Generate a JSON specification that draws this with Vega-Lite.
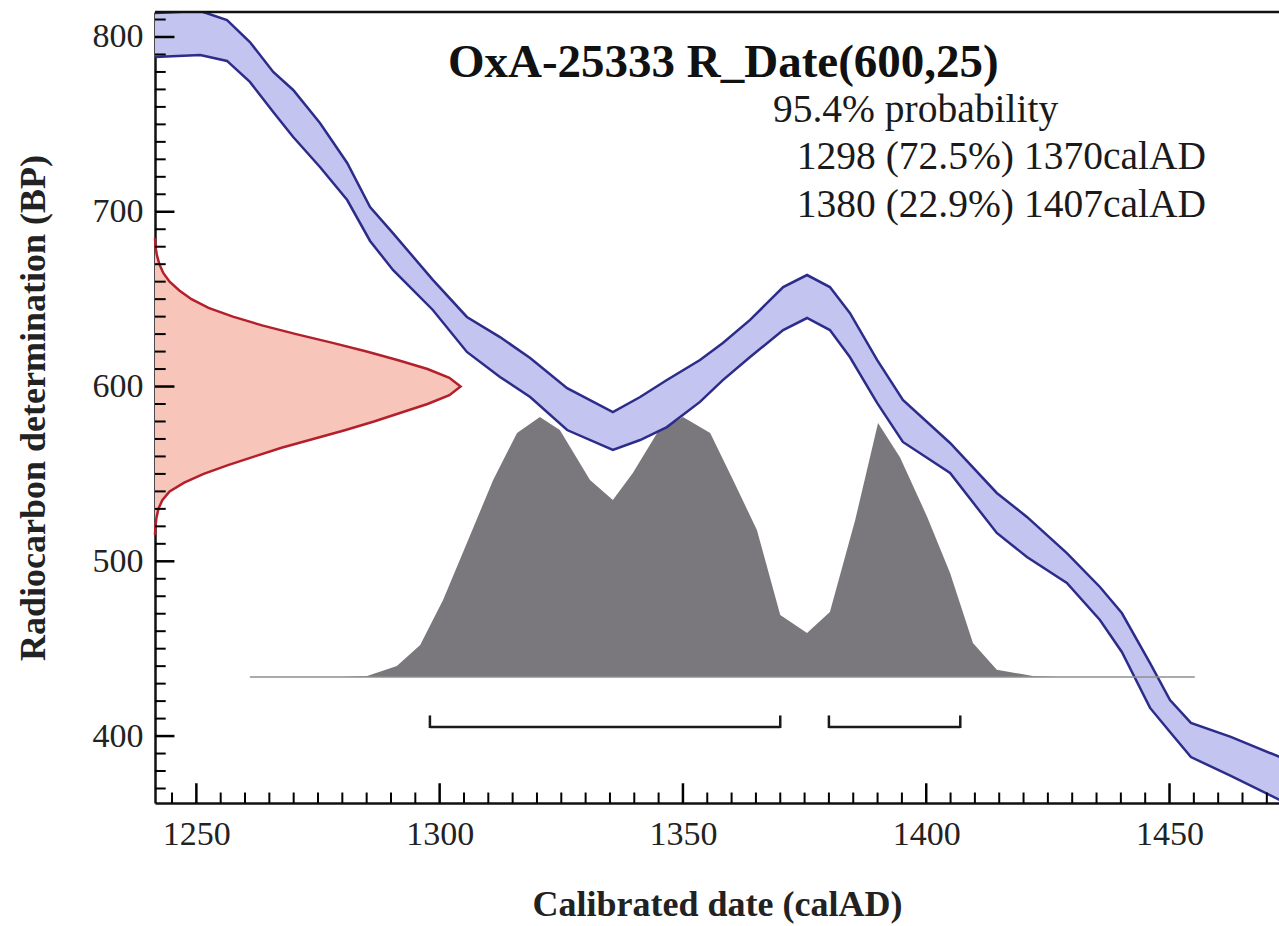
{
  "$schema": "https://vega.github.io/schema/vega-lite/v6.json",
  "width": 1124,
  "height": 791,
  "autosize": {"type": "none"},
  "padding": {"left": 155, "top": 12, "right": 0, "bottom": 123},
  "background": "white",
  "config": {"view": {"stroke": null}, "font": "Liberation Serif"},
  "datasets": {
    "band": [
      {"yr": 1241.5, "hi": 813.7, "lo": 788.6},
      {"yr": 1250.8, "hi": 814.9, "lo": 789.7},
      {"yr": 1256.3, "hi": 809.7, "lo": 786.3},
      {"yr": 1261.0, "hi": 797.1, "lo": 774.3},
      {"yr": 1265.8, "hi": 780.0, "lo": 757.1},
      {"yr": 1269.9, "hi": 769.7, "lo": 742.8},
      {"yr": 1275.4, "hi": 750.8, "lo": 725.6},
      {"yr": 1281.0, "hi": 727.9, "lo": 706.7},
      {"yr": 1285.7, "hi": 702.7, "lo": 683.3},
      {"yr": 1290.4, "hi": 687.8, "lo": 666.7},
      {"yr": 1298.6, "hi": 661.0, "lo": 643.8},
      {"yr": 1305.6, "hi": 639.8, "lo": 619.8},
      {"yr": 1312.4, "hi": 628.3, "lo": 605.5},
      {"yr": 1318.6, "hi": 616.3, "lo": 594.0},
      {"yr": 1326.2, "hi": 599.1, "lo": 575.1},
      {"yr": 1335.6, "hi": 585.4, "lo": 563.7},
      {"yr": 1341.2, "hi": 594.0, "lo": 569.4},
      {"yr": 1346.7, "hi": 603.7, "lo": 576.8},
      {"yr": 1353.5, "hi": 615.2, "lo": 591.2},
      {"yr": 1358.2, "hi": 624.9, "lo": 603.7},
      {"yr": 1363.8, "hi": 638.1, "lo": 616.9},
      {"yr": 1370.6, "hi": 656.9, "lo": 632.3},
      {"yr": 1375.5, "hi": 663.8, "lo": 639.2},
      {"yr": 1380.2, "hi": 656.9, "lo": 632.3},
      {"yr": 1384.3, "hi": 642.1, "lo": 616.9},
      {"yr": 1389.9, "hi": 615.2, "lo": 590.6},
      {"yr": 1395.2, "hi": 592.3, "lo": 568.3},
      {"yr": 1404.9, "hi": 567.7, "lo": 550.5},
      {"yr": 1414.5, "hi": 539.1, "lo": 516.2},
      {"yr": 1420.7, "hi": 525.4, "lo": 502.5},
      {"yr": 1428.9, "hi": 504.7, "lo": 487.6},
      {"yr": 1435.7, "hi": 485.3, "lo": 466.4},
      {"yr": 1440.2, "hi": 470.4, "lo": 448.1},
      {"yr": 1446.0, "hi": 441.8, "lo": 416.1},
      {"yr": 1450.1, "hi": 420.6, "lo": 402.3},
      {"yr": 1454.4, "hi": 407.5, "lo": 388.0},
      {"yr": 1462.6, "hi": 399.5, "lo": 377.2},
      {"yr": 1472.7, "hi": 388.0, "lo": 363.4}
    ],
    "rdate": [
      {"bp": 685, "yr": 1241.5},
      {"bp": 680, "yr": 1241.6},
      {"bp": 675, "yr": 1241.9},
      {"bp": 670, "yr": 1242.4},
      {"bp": 665, "yr": 1243.2},
      {"bp": 660, "yr": 1244.5},
      {"bp": 655, "yr": 1246.5},
      {"bp": 650, "yr": 1249.0},
      {"bp": 645, "yr": 1252.5},
      {"bp": 640, "yr": 1257.5},
      {"bp": 635, "yr": 1263.5},
      {"bp": 630, "yr": 1270.5},
      {"bp": 625, "yr": 1278.0},
      {"bp": 620, "yr": 1285.0},
      {"bp": 615, "yr": 1291.5},
      {"bp": 610, "yr": 1297.5},
      {"bp": 605, "yr": 1302.0},
      {"bp": 600, "yr": 1304.3},
      {"bp": 595, "yr": 1302.0},
      {"bp": 590, "yr": 1297.5},
      {"bp": 585, "yr": 1292.0},
      {"bp": 580, "yr": 1286.5},
      {"bp": 575, "yr": 1280.5},
      {"bp": 570, "yr": 1274.0},
      {"bp": 565, "yr": 1267.5},
      {"bp": 560, "yr": 1262.0},
      {"bp": 555, "yr": 1256.5},
      {"bp": 550, "yr": 1251.5},
      {"bp": 545, "yr": 1247.5},
      {"bp": 540, "yr": 1244.5},
      {"bp": 535, "yr": 1243.0},
      {"bp": 530, "yr": 1242.2},
      {"bp": 525, "yr": 1241.8},
      {"bp": 520, "yr": 1241.6},
      {"bp": 515, "yr": 1241.5}
    ],
    "posterior": [
      {"yr": 1279.5, "p": 433.8},
      {"yr": 1285.1, "p": 434.4},
      {"yr": 1291.2, "p": 440.1},
      {"yr": 1296.0, "p": 452.1},
      {"yr": 1300.7, "p": 477.9},
      {"yr": 1305.6, "p": 510.5},
      {"yr": 1311.0, "p": 546.5},
      {"yr": 1315.9, "p": 573.4},
      {"yr": 1320.6, "p": 582.6},
      {"yr": 1324.7, "p": 575.1},
      {"yr": 1330.9, "p": 546.5},
      {"yr": 1335.6, "p": 535.1},
      {"yr": 1339.7, "p": 550.5},
      {"yr": 1344.7, "p": 573.4},
      {"yr": 1350.0, "p": 582.6},
      {"yr": 1355.6, "p": 573.4},
      {"yr": 1360.3, "p": 546.5},
      {"yr": 1365.2, "p": 517.9},
      {"yr": 1370.0, "p": 469.3},
      {"yr": 1375.5, "p": 459.0},
      {"yr": 1380.2, "p": 471.0},
      {"yr": 1385.4, "p": 523.6},
      {"yr": 1390.1, "p": 579.1},
      {"yr": 1394.6, "p": 559.6},
      {"yr": 1400.2, "p": 525.4},
      {"yr": 1404.9, "p": 493.3},
      {"yr": 1409.6, "p": 453.3},
      {"yr": 1414.5, "p": 437.9},
      {"yr": 1421.9, "p": 434.4},
      {"yr": 1427.5, "p": 433.8}
    ],
    "baseline": [{"from": 1261.0, "to": 1455.2, "bp": 433.8}],
    "ranges": [{"from": 1298, "to": 1370}, {"from": 1380, "to": 1407}],
    "ends": [{"yr": 1298}, {"yr": 1370}, {"yr": 1380}, {"yr": 1407}],
    "xmajor": [{"v": 1250}, {"v": 1300}, {"v": 1350}, {"v": 1400}, {"v": 1450}],
    "xminor": [{"v": 1245}, {"v": 1255}, {"v": 1260}, {"v": 1265}, {"v": 1270}, {"v": 1275}, {"v": 1280}, {"v": 1285}, {"v": 1290}, {"v": 1295}, {"v": 1305}, {"v": 1310}, {"v": 1315}, {"v": 1320}, {"v": 1325}, {"v": 1330}, {"v": 1335}, {"v": 1340}, {"v": 1345}, {"v": 1355}, {"v": 1360}, {"v": 1365}, {"v": 1370}, {"v": 1375}, {"v": 1380}, {"v": 1385}, {"v": 1390}, {"v": 1395}, {"v": 1405}, {"v": 1410}, {"v": 1415}, {"v": 1420}, {"v": 1425}, {"v": 1430}, {"v": 1435}, {"v": 1440}, {"v": 1445}, {"v": 1455}, {"v": 1460}, {"v": 1465}, {"v": 1470}],
    "ymajor": [{"v": 400}, {"v": 500}, {"v": 600}, {"v": 700}, {"v": 800}],
    "yminor": [{"v": 370}, {"v": 380}, {"v": 390}, {"v": 410}, {"v": 420}, {"v": 430}, {"v": 440}, {"v": 450}, {"v": 460}, {"v": 470}, {"v": 480}, {"v": 490}, {"v": 510}, {"v": 520}, {"v": 530}, {"v": 540}, {"v": 550}, {"v": 560}, {"v": 570}, {"v": 580}, {"v": 590}, {"v": 610}, {"v": 620}, {"v": 630}, {"v": 640}, {"v": 650}, {"v": 660}, {"v": 670}, {"v": 680}, {"v": 690}, {"v": 710}, {"v": 720}, {"v": 730}, {"v": 740}, {"v": 750}, {"v": 760}, {"v": 770}, {"v": 780}, {"v": 790}, {"v": 810}],
    "title": [{"x": 1301.7, "y": 777.1, "label": "OxA-25333 R_Date(600,25)"}],
    "prob": [
      {"x": 1368.5, "y": 751.4, "label": "95.4% probability"},
      {"x": 1373.4, "y": 724.5, "label": "1298 (72.5%) 1370calAD"},
      {"x": 1373.4, "y": 697.0, "label": "1380 (22.9%) 1407calAD"}
    ]
  },
  "layer": [
    {
      "data": {"name": "rdate"},
      "mark": {"type": "area", "orient": "horizontal", "color": "#f8c5ba", "opacity": 1},
      "encoding": {
        "y": {
          "field": "bp", "type": "quantitative",
          "scale": {"domain": [361.7, 814.3], "nice": false, "zero": false},
          "axis": {
            "values": [400, 500, 600, 700, 800],
            "format": "d",
            "ticks": false,
            "labelPadding": 12,
            "labelFontSize": 34,
            "labelFont": "Liberation Serif",
            "labelColor": "#222",
            "labelOverlap": false,
            "labelFlush": false,
            "labelBound": false,
            "title": "Radiocarbon determination (BP)",
            "titleFont": "Liberation Serif",
            "titleFontSize": 36,
            "titleFontWeight": "bold",
            "titleColor": "#222",
            "titlePadding": 40,
            "domainColor": "#111",
            "domainWidth": 2.5,
            "grid": false
          }
        },
        "x": {
          "field": "yr", "type": "quantitative",
          "scale": {"domain": [1241.5, 1472.5], "nice": false, "zero": false},
          "axis": {
            "values": [1250, 1300, 1350, 1400, 1450],
            "format": "d",
            "ticks": false,
            "labelPadding": 14,
            "labelFontSize": 34,
            "labelFont": "Liberation Serif",
            "labelColor": "#222",
            "labelOverlap": false,
            "labelFlush": false,
            "labelBound": false,
            "title": "Calibrated date (calAD)",
            "titleFont": "Liberation Serif",
            "titleFontSize": 36,
            "titleFontWeight": "bold",
            "titleColor": "#222",
            "titlePadding": 36,
            "domainColor": "#111",
            "domainWidth": 2.5,
            "grid": false
          }
        },
        "x2": {"datum": 1241.5}
      }
    },
    {
      "data": {"name": "rdate"},
      "mark": {"type": "line", "color": "#b3202c", "strokeWidth": 2.5},
      "encoding": {
        "y": {"field": "bp", "type": "quantitative"},
        "x": {"field": "yr", "type": "quantitative"},
        "order": {"field": "bp", "type": "quantitative"}
      }
    },
    {
      "data": {"name": "posterior"},
      "mark": {"type": "area", "color": "#7a787c", "opacity": 1},
      "encoding": {
        "x": {"field": "yr", "type": "quantitative"},
        "y": {"field": "p", "type": "quantitative"},
        "y2": {"datum": 433.8}
      }
    },
    {
      "data": {"name": "band"},
      "mark": {"type": "area", "color": "#c4c4f0", "opacity": 1, "clip": true},
      "encoding": {
        "x": {"field": "yr", "type": "quantitative"},
        "y": {"field": "hi", "type": "quantitative"},
        "y2": {"field": "lo"}
      }
    },
    {
      "data": {"name": "band"},
      "mark": {"type": "line", "color": "#2c2c8a", "strokeWidth": 2.5, "clip": true},
      "encoding": {
        "x": {"field": "yr", "type": "quantitative"},
        "y": {"field": "hi", "type": "quantitative"}
      }
    },
    {
      "data": {"name": "band"},
      "mark": {"type": "line", "color": "#2c2c8a", "strokeWidth": 2.5, "clip": true},
      "encoding": {
        "x": {"field": "yr", "type": "quantitative"},
        "y": {"field": "lo", "type": "quantitative"}
      }
    },
    {
      "data": {"name": "baseline"},
      "mark": {"type": "rule", "color": "#8f8f8f", "strokeWidth": 1.5},
      "encoding": {
        "x": {"field": "from", "type": "quantitative"},
        "x2": {"field": "to"},
        "y": {"field": "bp", "type": "quantitative"}
      }
    },
    {
      "data": {"name": "ranges"},
      "mark": {"type": "rule", "color": "#1a1a1a", "strokeWidth": 2.5},
      "encoding": {
        "x": {"field": "from", "type": "quantitative"},
        "x2": {"field": "to"},
        "y": {"datum": 405.2}
      }
    },
    {
      "data": {"name": "ends"},
      "mark": {"type": "rule", "color": "#1a1a1a", "strokeWidth": 2.5},
      "encoding": {
        "x": {"field": "yr", "type": "quantitative"},
        "y": {"datum": 404.6},
        "y2": {"datum": 411.8}
      }
    },
    {
      "data": {"name": "xmajor"},
      "mark": {"type": "rule", "color": "#000", "strokeWidth": 2.5},
      "encoding": {
        "x": {"field": "v", "type": "quantitative"},
        "y": {"datum": 361.7},
        "y2": {"datum": 373.0}
      }
    },
    {
      "data": {"name": "xminor"},
      "mark": {"type": "rule", "color": "#000", "strokeWidth": 2},
      "encoding": {
        "x": {"field": "v", "type": "quantitative"},
        "y": {"datum": 361.7},
        "y2": {"datum": 367.7}
      }
    },
    {
      "data": {"name": "ymajor"},
      "mark": {"type": "rule", "color": "#000", "strokeWidth": 2.5},
      "encoding": {
        "y": {"field": "v", "type": "quantitative"},
        "x": {"datum": 1241.5},
        "x2": {"datum": 1245.5}
      }
    },
    {
      "data": {"name": "yminor"},
      "mark": {"type": "rule", "color": "#000", "strokeWidth": 2},
      "encoding": {
        "y": {"field": "v", "type": "quantitative"},
        "x": {"datum": 1241.5},
        "x2": {"datum": 1243.7}
      }
    },
    {
      "data": {"name": "baseline"},
      "mark": {"type": "rule", "color": "#111", "strokeWidth": 2.5},
      "encoding": {
        "y": {"datum": 814.3}
      }
    },
    {
      "data": {"name": "title"},
      "mark": {"type": "text", "align": "left", "baseline": "alphabetic", "font": "Liberation Serif", "fontSize": 47, "fontWeight": "bold", "color": "#111"},
      "encoding": {
        "x": {"field": "x", "type": "quantitative"},
        "y": {"field": "y", "type": "quantitative"},
        "text": {"field": "label"}
      }
    },
    {
      "data": {"name": "prob"},
      "mark": {"type": "text", "align": "left", "baseline": "alphabetic", "font": "Liberation Serif", "fontSize": 39.5, "color": "#1a1a1a"},
      "encoding": {
        "x": {"field": "x", "type": "quantitative"},
        "y": {"field": "y", "type": "quantitative"},
        "text": {"field": "label"}
      }
    }
  ]
}
